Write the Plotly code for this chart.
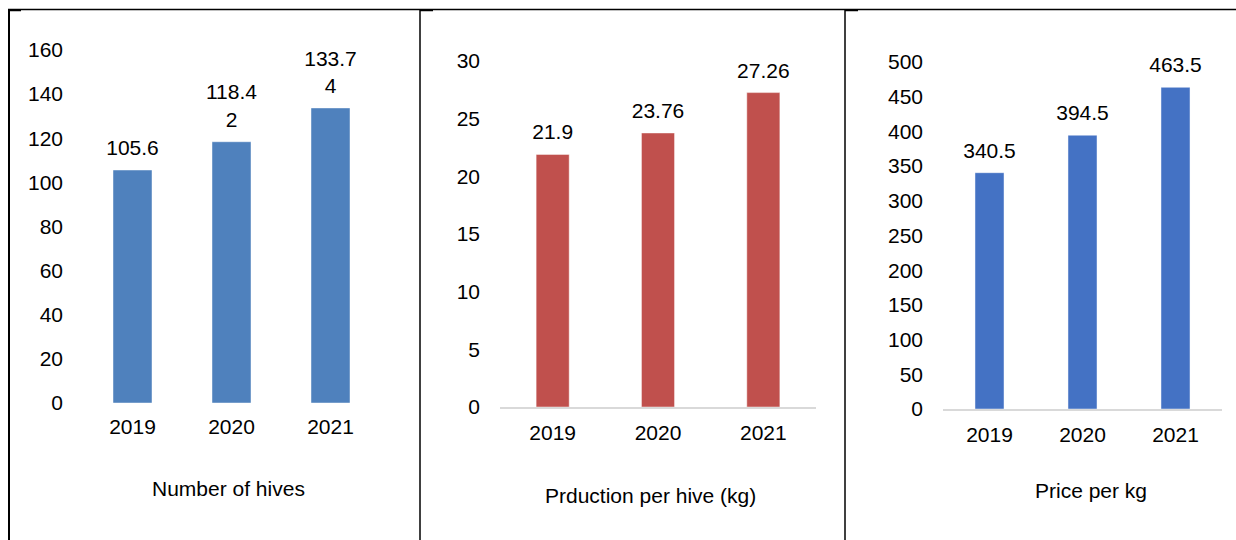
import plotly.graph_objects as go

years = ["2019", "2020", "2021"]
hives = [105.6, 118.42, 133.74]
hives_labels = ["105.6", "118.4<br>2", "133.7<br>4"]
production = [21.9, 23.76, 27.26]
production_labels = ["21.9", "23.76", "27.26"]
price = [340.5, 394.5, 463.5]
price_labels = ["340.5", "394.5", "463.5"]

titles = ["Number of hives", "Prduction per hive (kg)", "Price per kg"]
y_ticks = [list(range(0, 161, 20)), list(range(0, 31, 5)), list(range(0, 501, 50))]
y_ranges = [[0, 160], [0, 30], [0, 500]]
colors = ["#4F81BD", "#C0504D", "#4472C4"]

W, H = 1236, 540
FONT = "Liberation Sans, Arial, sans-serif"
FS = 21

def px(x):
    return x / W

def py(y):
    return 1 - y / H

# panel geometry (pixels)
panels = [
    dict(x0=83, x1=380, y0=403, y1=50, bw=0.394, title_xy=(228, 488), xstand=9),
    dict(x0=500, x1=816, y0=407, y1=61, bw=0.314, title_xy=(650, 495), xstand=6),
    dict(x0=943, x1=1222, y0=409, y1=62, bw=0.312, title_xy=(1091, 490), xstand=6),
]

series = [hives, production, price]
labels = [hives_labels, production_labels, price_labels]

fig = go.Figure()
annotations = []
for i, (p, vals, labs) in enumerate(zip(panels, series, labels)):
    n = "" if i == 0 else str(i + 1)
    xa, ya = "x" + n, "y" + n
    fig.add_trace(go.Bar(
        x=years, y=vals, width=p["bw"], xaxis=xa, yaxis=ya,
        marker=dict(color=colors[i], line=dict(color="rgba(255,255,255,0.45)", width=1)),
        showlegend=False, hoverinfo="x+y",
    ))
    fig.add_trace(go.Scatter(
        x=years, y=vals, xaxis=xa, yaxis=ya, mode="markers+text",
        text=labs, textposition="top center",
        textfont=dict(family=FONT, size=FS, color="#000000"),
        marker=dict(size=14, opacity=0),
        showlegend=False, hoverinfo="skip", cliponaxis=False,
    ))
    tx, ty = p["title_xy"]
    annotations.append(dict(
        x=px(tx), y=py(ty), xref="paper", yref="paper", text=titles[i],
        showarrow=False, xanchor="center", yanchor="middle",
        font=dict(family=FONT, size=FS, color="#000000"),
    ))
    fig.update_layout(**{
        ("xaxis" + n): dict(
            domain=[px(p["x0"]), px(p["x1"])], anchor=ya, type="category",
            range=[-0.5, 2.5], showgrid=False, zeroline=False,
            showline=(i > 0), linecolor="#D9D9D9", linewidth=1.5,
            ticks="", ticklabelstandoff=p["xstand"], automargin=False,
            tickfont=dict(family=FONT, size=FS, color="#000000"),
            fixedrange=True,
        ),
        ("yaxis" + n): dict(
            domain=[py(p["y0"]), py(p["y1"])], anchor=xa,
            range=y_ranges[i], tickvals=y_ticks[i], showgrid=False,
            zeroline=False, showline=False, ticks="", ticklabelstandoff=19,
            automargin=False,
            tickfont=dict(family=FONT, size=FS, color="#000000"),
            fixedrange=True,
        ),
    })

shapes = []
line_black = dict(color="#000000", width=1.5)
shapes.append(dict(type="line", xref="paper", yref="paper",
                   x0=px(8), x1=1, y0=py(9.5), y1=py(9.5), line=line_black))
for xv, w in [(9, 2), (420, 1.5), (845, 1.5)]:
    shapes.append(dict(type="line", xref="paper", yref="paper",
                       x0=px(xv), x1=px(xv), y0=py(9), y1=0,
                       line=dict(color="#000000", width=w)))
for xa0 in [8, 420, 845]:
    shapes.append(dict(type="line", xref="paper", yref="paper",
                       x0=px(xa0), x1=px(xa0 + 13), y0=py(10.5), y1=py(10.5),
                       line=dict(color="#000000", width=1.5)))

fig.update_layout(
    width=W, height=H, margin=dict(l=0, r=0, t=0, b=0, pad=0, autoexpand=False),
    paper_bgcolor="#FFFFFF", plot_bgcolor="#FFFFFF",
    annotations=annotations, shapes=shapes,
    font=dict(family=FONT, size=FS, color="#000000"),
    bargap=0.6,
)

fig.write_html("out.html")
